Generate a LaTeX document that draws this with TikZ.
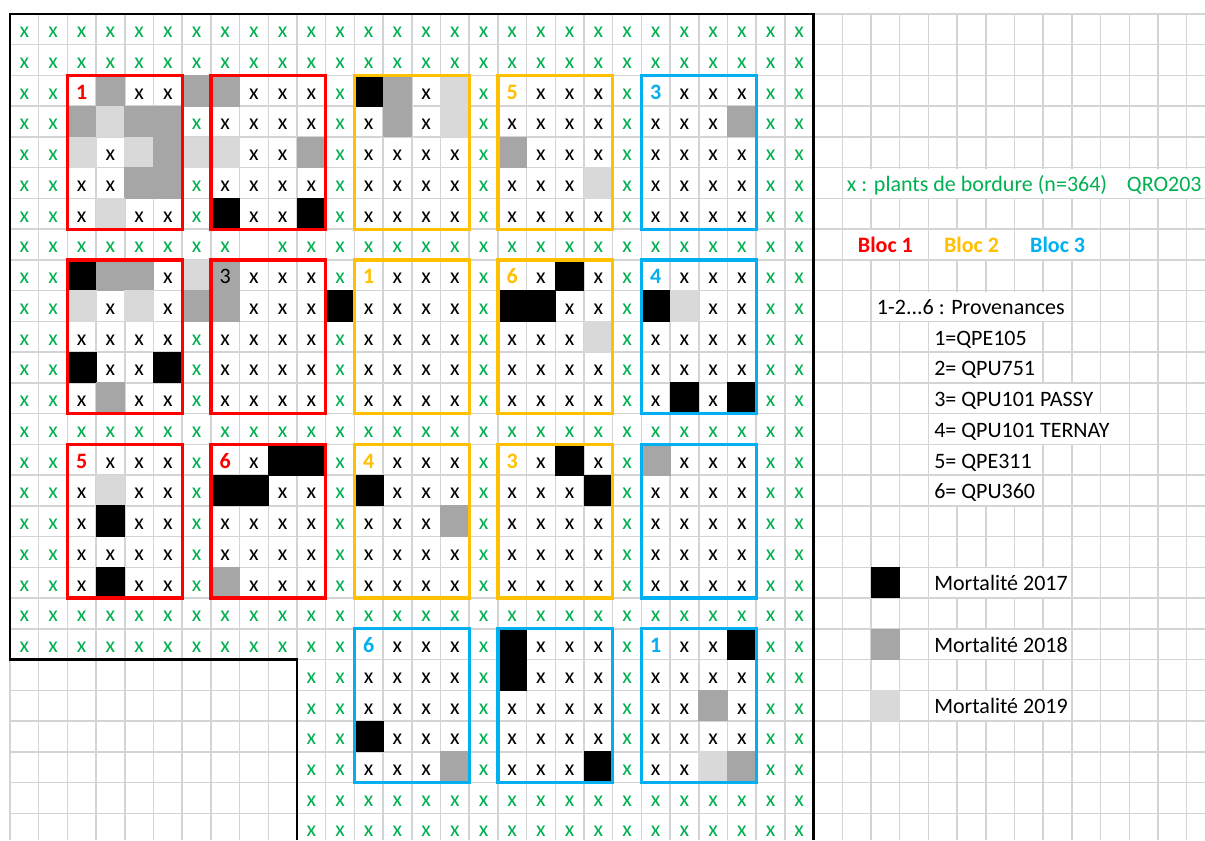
\documentclass[tikz,border=0pt]{standalone}
\usepackage{fontspec}
\setmainfont{Carlito}
\definecolor{cred}{HTML}{FF0000}
\definecolor{corange}{HTML}{FFC000}
\definecolor{cblue}{HTML}{00B0F0}
\definecolor{cgreen}{HTML}{00B050}
\definecolor{dgray}{HTML}{A6A6A6}
\definecolor{lgray}{HTML}{D9D9D9}
\definecolor{gridc}{HTML}{D4D4D4}
\newcommand{\cellfill}[1]{\fill[#1] ({\xl-0.4},{\yt-0.4}) rectangle ({\xr+0.4},{\yb+0.4});}
\pgfkeys{
 /cellc/g/.code={\node[gx] (g\ri-\ci) at (\xm,\ybase) {x};},
 /cellc/x/.code={\node[bx] (x\ri-\ci) at (\xm,\ybase) {x};},
 /cellc/e/.code={},
 /cellc/K/.code={\cellfill{black}},
 /cellc/D/.code={\cellfill{dgray}},
 /cellc/L/.code={\cellfill{lgray}},
 /cellc/D3/.code={\cellfill{dgray}\node[bx] (n\ri-\ci) at (\xm,\ybase) {3};},
 /cellc/r1/.code={\node[num,text=cred] (n\ri-\ci) at (\xm,\ybase) {1};},
 /cellc/r5/.code={\node[num,text=cred] (n\ri-\ci) at (\xm,\ybase) {5};},
 /cellc/r6/.code={\node[num,text=cred] (n\ri-\ci) at (\xm,\ybase) {6};},
 /cellc/o1/.code={\node[num,text=corange] (n\ri-\ci) at (\xm,\ybase) {1};},
 /cellc/o3/.code={\node[num,text=corange] (n\ri-\ci) at (\xm,\ybase) {3};},
 /cellc/o4/.code={\node[num,text=corange] (n\ri-\ci) at (\xm,\ybase) {4};},
 /cellc/o5/.code={\node[num,text=corange] (n\ri-\ci) at (\xm,\ybase) {5};},
 /cellc/o6/.code={\node[num,text=corange] (n\ri-\ci) at (\xm,\ybase) {6};},
 /cellc/b1/.code={\node[num,text=cblue] (n\ri-\ci) at (\xm,\ybase) {1};},
 /cellc/b3/.code={\node[num,text=cblue] (n\ri-\ci) at (\xm,\ybase) {3};},
 /cellc/b4/.code={\node[num,text=cblue] (n\ri-\ci) at (\xm,\ybase) {4};},
 /cellc/b6/.code={\node[num,text=cblue] (n\ri-\ci) at (\xm,\ybase) {6};},
}
\begin{document}
\begin{tikzpicture}[x=0.75pt,y=-0.75pt,
  gline/.style={draw=gridc,line width=1.1pt},
  txt/.style={inner sep=0pt,anchor=base,font=\fontsize{16.5}{19.8}\selectfont},
  gx/.style={txt,text=cgreen},
  bx/.style={txt,text=black},
  num/.style={txt,font=\fontsize{16.5}{19.8}\selectfont\bfseries},
  leg/.style={txt,anchor=base west},
  blocbox/.style={line width=2.5pt},
  mask/.style={fill=white}]
\useasboundingbox (0,0) rectangle (1205,840);
\fill[white] (0,0) rectangle (1205,840);
% spreadsheet grid
\foreach \n in {0,...,41} \draw[gline] ({10+28.7*\n},14) -- ({10+28.7*\n},840);
\foreach \m in {0,...,26} \draw[gline] (10,{14+30.74*\m}) -- (1205,{14+30.74*\m});
% cells
\foreach \rowlist [count=\ri] in {
{g,g,g,g,g,g,g,g,g,g,g,g,g,g,g,g,g,g,g,g,g,g,g,g,g,g,g,g},
{g,g,g,g,g,g,g,g,g,g,g,g,g,g,g,g,g,g,g,g,g,g,g,g,g,g,g,g},
{g,g,r1,D,x,x,D,D,x,x,x,g,K,D,x,L,g,o5,x,x,x,g,b3,x,x,x,g,g},
{g,g,D,L,D,D,g,x,x,x,x,g,x,D,x,L,g,x,x,x,x,g,x,x,x,D,g,g},
{g,g,L,x,L,D,L,L,x,x,D,g,x,x,x,x,g,D,x,x,x,g,x,x,x,x,g,g},
{g,g,x,x,D,D,g,x,x,x,x,g,x,x,x,x,g,x,x,x,L,g,x,x,x,x,g,g},
{g,g,x,L,x,x,g,K,x,x,K,g,x,x,x,x,g,x,x,x,x,g,x,x,x,x,g,g},
{g,g,g,g,g,g,g,g,e,g,g,g,g,g,g,g,g,g,g,g,g,g,g,g,g,g,g,g},
{g,g,K,D,D,x,L,D3,x,x,x,g,o1,x,x,x,g,o6,x,K,x,g,b4,x,x,x,g,g},
{g,g,L,x,L,x,D,D,x,x,x,K,x,x,x,x,g,K,K,x,x,g,K,L,x,x,g,g},
{g,g,x,x,x,x,g,x,x,x,x,g,x,x,x,x,g,x,x,x,L,g,x,x,x,x,g,g},
{g,g,K,x,x,K,g,x,x,x,x,g,x,x,x,x,g,x,x,x,x,g,x,x,x,x,g,g},
{g,g,x,D,x,x,g,x,x,x,x,g,x,x,x,x,g,x,x,x,x,g,x,K,x,K,g,g},
{g,g,g,g,g,g,g,g,g,g,g,g,g,g,g,g,g,g,g,g,g,g,g,g,g,g,g,g},
{g,g,r5,x,x,x,g,r6,x,K,K,g,o4,x,x,x,g,o3,x,K,x,g,D,x,x,x,g,g},
{g,g,x,L,x,x,g,K,K,x,x,g,K,x,x,x,g,x,x,x,K,g,x,x,x,x,g,g},
{g,g,x,K,x,x,g,x,x,x,x,g,x,x,x,D,g,x,x,x,x,g,x,x,x,x,g,g},
{g,g,x,x,x,x,g,x,x,x,x,g,x,x,x,x,g,x,x,x,x,g,x,x,x,x,g,g},
{g,g,x,K,x,x,g,D,x,x,x,g,x,x,x,x,g,x,x,x,x,g,x,x,x,x,g,g},
{g,g,g,g,g,g,g,g,g,g,g,g,g,g,g,g,g,g,g,g,g,g,g,g,g,g,g,g},
{g,g,g,g,g,g,g,g,g,g,g,g,b6,x,x,x,g,K,x,x,x,g,b1,x,x,K,g,g},
{e,e,e,e,e,e,e,e,e,e,g,g,x,x,x,x,g,K,x,x,x,g,x,x,x,x,g,g},
{e,e,e,e,e,e,e,e,e,e,g,g,x,x,x,x,g,x,x,x,x,g,x,x,D,x,g,g},
{e,e,e,e,e,e,e,e,e,e,g,g,K,x,x,x,g,x,x,x,x,g,x,x,x,x,g,g},
{e,e,e,e,e,e,e,e,e,e,g,g,x,x,x,D,g,x,x,x,K,g,x,x,L,D,g,g},
{e,e,e,e,e,e,e,e,e,e,g,g,g,g,g,g,g,g,g,g,g,g,g,g,g,g,g,g},
{e,e,e,e,e,e,e,e,e,e,g,g,g,g,g,g,g,g,g,g,g,g,g,g,g,g,g,g}}{
  \foreach \k [count=\ci] in \rowlist {
    \pgfmathsetmacro\xl{10+28.7*(\ci-1)}
    \pgfmathsetmacro\xr{10+28.7*\ci}
    \pgfmathsetmacro\xm{10+28.7*(\ci-0.5)}
    \pgfmathsetmacro\yt{14+30.74*(\ri-1)}
    \pgfmathsetmacro\yb{14+30.74*\ri}
    \pgfmathsetmacro\ybase{14+30.74*\ri-7}
    \edef\cellcmd{\noexpand\pgfkeys{/cellc/\k}}\cellcmd
  }
}
% block outlines
\foreach \cz/\rz in {3/3,8/3,3/9,8/9,3/15,8/15}
  \draw[blocbox,cred] ({10+28.7*(\cz-1)},{14+30.74*(\rz-1)}) rectangle ({10+28.7*(\cz+3)},{14+30.74*(\rz+4)});
\foreach \cz/\rz in {13/3,18/3,13/9,18/9,13/15,18/15}
  \draw[blocbox,corange] ({10+28.7*(\cz-1)},{14+30.74*(\rz-1)}) rectangle ({10+28.7*(\cz+3)},{14+30.74*(\rz+4)});
\foreach \cz/\rz in {23/3,23/9,23/15,13/21,18/21,23/21}
  \draw[blocbox,cblue] ({10+28.7*(\cz-1)},{14+30.74*(\rz-1)}) rectangle ({10+28.7*(\cz+3)},{14+30.74*(\rz+4)});
% plot border
\draw[black,line width=1.7pt] (813.6,840) -- (813.6,14) -- (10,14) -- (10,659.54) -- (297,659.54) -- (297,840);
% legend: overflow masks
\fill[mask] (843.1,168.5) rectangle (1205,197.6);
\fill[mask] (843.1,230) rectangle (927.6,259.1);
\fill[mask] (929.2,230) rectangle (1013.7,259.1);
\fill[mask] (1015.3,230) rectangle (1099.8,259.1);
\fill[mask] (871.8,291.5) rectangle (1071.1,320.6);
\fill[mask] (929.2,322.2) rectangle (1042.4,351.3);
\fill[mask] (929.2,352.9) rectangle (1042.4,382.1);
\fill[mask] (929.2,383.7) rectangle (1099.8,412.8);
\fill[mask] (929.2,414.4) rectangle (1128.5,443.6);
\fill[mask] (929.2,445.2) rectangle (1042.4,474.3);
\fill[mask] (929.2,475.9) rectangle (1042.4,505.0);
\fill[mask] (929.2,568.1) rectangle (1071.1,597.3);
\fill[mask] (929.2,629.6) rectangle (1071.1,658.7);
\fill[mask] (929.2,691.1) rectangle (1071.1,720.2);
% legend texts
\node[leg,text=cgreen] (lgx) at (846.7,191.4) {x : plants de bordure (n=364)};
\node[leg,text=cgreen] (lgq) at (1126.7,191.4) {QRO203};
\node[num,text=cred] (lb1) at (885.4,252.9) {Bloc 1};
\node[num,text=corange] (lb2) at (971.5,252.9) {Bloc 2};
\node[num,text=cblue] (lb3) at (1057.6,252.9) {Bloc 3};
\node[leg] (lp0) at (876.7,314.4) {1-2...6 : Provenances};
\node[leg] (lp1) at (934,345.1) {1=QPE105};
\node[leg] (lp2) at (934,375.9) {2= QPU751};
\node[leg] (lp3) at (934,406.6) {3= QPU101 PASSY};
\node[leg] (lp4) at (934,437.4) {4= QPU101 TERNAY};
\node[leg] (lp5) at (934,468.1) {5= QPE311};
\node[leg] (lp6) at (934,498.8) {6= QPU360};
\fill[black] (871,567.32) rectangle (899.7,598.06);
\fill[dgray] (871,628.8) rectangle (899.7,659.54);
\fill[lgray] (871,690.28) rectangle (899.7,721.02);
\node[leg] (lm1) at (934,590.6) {Mortalité 2017};
\node[leg] (lm2) at (934,652.0) {Mortalité 2018};
\node[leg] (lm3) at (934,713.5) {Mortalité 2019};
\end{tikzpicture}
\end{document}
